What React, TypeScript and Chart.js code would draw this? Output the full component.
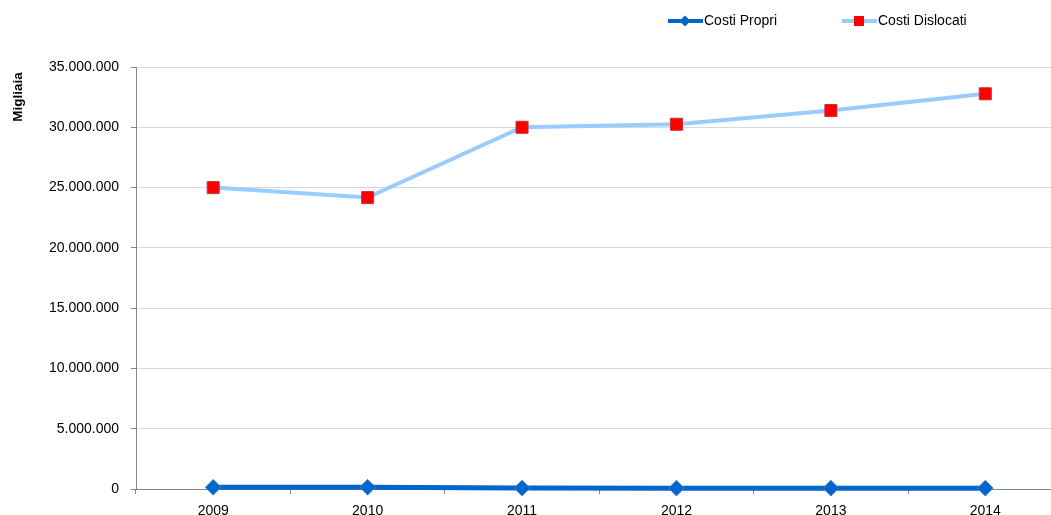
import React, { useEffect, useRef } from "react";
import { Chart, registerables } from "chart.js";

Chart.register(...registerables);

const categories = ["2009", "2010", "2011", "2012", "2013", "2014"];
const costiPropri = [140000, 150000, 80000, 70000, 70000, 70000];
const costiDislocati = [25000000, 24170000, 30000000, 30250000, 31390000, 32780000];
const yTicks = [0, 5000000, 10000000, 15000000, 20000000, 25000000, 30000000, 35000000];
const seriesNames = ["Costi Propri", "Costi Dislocati"];
const yTitle = "Migliaia";

const FONT = "'Liberation Sans', Arial, sans-serif";
const DARK = "#0066CC";
const LIGHT = "#99CCFF";
const RED = "#FF0000";

function fmt(n: number): string {
  return String(Math.round(n)).replace(/\B(?=(\d{3})+(?!\d))/g, ".");
}

const overlayPlugin = {
  id: "overlay",
  afterDraw(chart: any) {
    const ctx = chart.ctx as CanvasRenderingContext2D;
    ctx.save();
    // y title
    ctx.translate(18, 97);
    ctx.rotate(-Math.PI / 2);
    ctx.font = "bold 13.5px " + FONT;
    ctx.fillStyle = "#000";
    ctx.textAlign = "center";
    ctx.textBaseline = "middle";
    ctx.fillText(yTitle, 0, 0);
    ctx.restore();

    // legend
    ctx.save();
    const ly = 21;
    ctx.lineCap = "butt";
    // Costi Propri
    ctx.strokeStyle = DARK;
    ctx.lineWidth = 4;
    ctx.beginPath();
    ctx.moveTo(668, ly);
    ctx.lineTo(703, ly);
    ctx.stroke();
    ctx.fillStyle = DARK;
    ctx.beginPath();
    ctx.moveTo(685, ly - 5.5);
    ctx.lineTo(690.5, ly);
    ctx.lineTo(685, ly + 5.5);
    ctx.lineTo(679.5, ly);
    ctx.closePath();
    ctx.fill();
    // Costi Dislocati
    ctx.strokeStyle = LIGHT;
    ctx.beginPath();
    ctx.moveTo(842, ly);
    ctx.lineTo(877, ly);
    ctx.stroke();
    ctx.fillStyle = RED;
    ctx.fillRect(854, ly - 5, 10, 10);

    ctx.font = "14px " + FONT;
    ctx.fillStyle = "#000";
    ctx.textAlign = "left";
    ctx.textBaseline = "middle";
    ctx.fillText(seriesNames[0], 704, ly);
    ctx.fillText(seriesNames[1], 878, ly);
    ctx.restore();
  },
};

export default function App() {
  const ref = useRef<HTMLCanvasElement>(null);
  useEffect(() => {
    if (!ref.current) return;
    Chart.defaults.font.family = FONT;
    const chart = new Chart(ref.current, {
      type: "line",
      data: {
        labels: categories,
        datasets: [
          {
            label: seriesNames[1],
            data: costiDislocati,
            borderColor: LIGHT,
            borderWidth: 4,
            backgroundColor: RED,
            pointStyle: "rect",
            pointRadius: 8.5,
            pointBorderColor: "#D03030",
            pointBorderWidth: 1,
            tension: 0,
            clip: false,
          },
          {
            label: seriesNames[0],
            data: costiPropri,
            borderColor: DARK,
            borderWidth: 5,
            backgroundColor: DARK,
            pointStyle: "rectRot",
            pointRadius: 7.8,
            pointBorderColor: "#3A7CC8",
            pointBorderWidth: 1,
            tension: 0,
            clip: false,
          },
        ],
      },
      options: {
        responsive: false,
        animation: false,
        layout: { padding: { top: 67, left: 0, right: 0, bottom: 0 } },
        plugins: { legend: { display: false }, tooltip: { enabled: false }, title: { display: false } },
        scales: {
          x: {
            type: "category",
            offset: true,
            grid: {
              offset: true,
              drawOnChartArea: false,
              drawTicks: true,
              tickLength: 5,
              tickColor: "#868686",
            },
            border: { color: "#868686", width: 1 },
            ticks: { color: "#000", font: { size: 14 }, padding: 9, maxRotation: 0, autoSkip: false },
            afterFit: (s: any) => {
              s.height = 26;
            },
          },
          y: {
            min: 0,
            max: 35000000,
            afterBuildTicks: (s: any) => {
              s.ticks = yTicks.map((v) => ({ value: v }));
            },
            grid: {
              color: "#D9D9D9",
              tickColor: "#868686",
              tickLength: 5,
            },
            border: { color: "#868686", width: 1 },
            ticks: {
              color: "#000",
              font: { size: 14 },
              padding: 12,
              callback: (v: any) => fmt(Number(v)),
            },
            afterFit: (s: any) => {
              s.width = 136;
            },
          },
        },
      },
      plugins: [overlayPlugin],
    });
    return () => chart.destroy();
  }, []);
  return (
    <div style={{ position: "absolute", left: 0, top: 0, width: 1051, height: 515, overflow: "hidden", background: "#fff" }}>
      <canvas ref={ref} width={1072} height={515} style={{ width: 1072, height: 515, display: "block" }} />
    </div>
  );
}
